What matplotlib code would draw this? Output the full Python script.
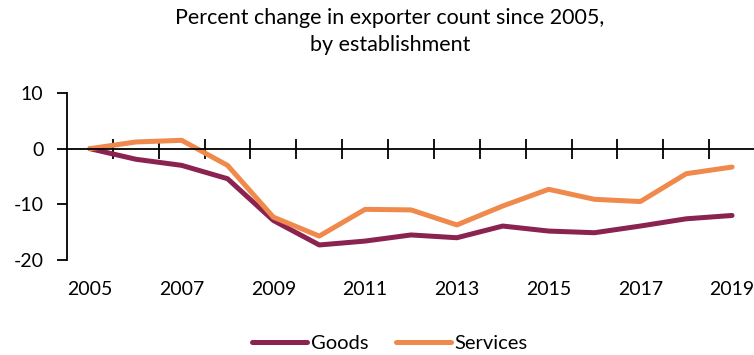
import matplotlib
matplotlib.use('Agg')
import matplotlib.pyplot as plt
import numpy as np

plt.rcParams['font.family'] = ['Lato', 'DejaVu Sans']
plt.rcParams['axes.unicode_minus'] = False

# Percent change in exporter count since 2005
years = list(range(2005, 2020))
goods = [0, -1.9, -3.0, -5.4, -12.9, -17.3, -16.6, -15.5, -16.0, -13.9,
         -14.8, -15.1, -13.9, -12.6, -12.0]
services = [0, 1.2, 1.5, -3.0, -12.3, -15.7, -10.9, -11.0, -13.7, -10.3,
            -7.3, -9.1, -9.5, -4.5, -3.3]
label_years = [2005, 2007, 2009, 2011, 2013, 2015, 2017, 2019]
y_ticks = [10, 0, -10, -20]

goods_color = '#8B2350'
services_color = '#EF8A4C'

fig = plt.figure(figsize=(7.54, 3.55), dpi=100)
ax = fig.add_axes([67 / 754, 1 - 260 / 355, 688 / 754, 167 / 355])

ax.plot(years, goods, color=goods_color, lw=3.6, solid_capstyle='round',
        solid_joinstyle='round', label='Goods')
ax.plot(years, services, color=services_color, lw=3.6, solid_capstyle='round',
        solid_joinstyle='round', label='Services')

ax.set_xlim(years[0] - 0.5, years[-1] + 0.5)
ax.set_ylim(-20, 10)

# category axis crossing at zero, ticks between categories
for s in ['top', 'right']:
    ax.spines[s].set_visible(False)
ax.spines['bottom'].set_position(('data', 0))
ax.spines['bottom'].set_linewidth(1.3)
ax.spines['left'].set_linewidth(1.3)
ax.set_xticks([y + 0.5 for y in years[:-1]])
ax.set_xticklabels([])
ax.tick_params(axis='x', direction='inout', length=14, width=1.3)

ax.set_yticks(y_ticks)
ax.set_yticklabels([str(v) for v in y_ticks])
ax.tick_params(axis='y', direction='out', length=7, width=1.3,
               labelsize=14, pad=10)

# year labels sit below the plot area
sec = ax.secondary_xaxis('bottom')
sec.spines['bottom'].set_visible(False)
sec.set_xticks(label_years)
sec.set_xticklabels([str(y) for y in label_years])
sec.tick_params(length=0, labelsize=14, pad=15)

fig.text(390 / 754, 1 - 18 / 355, 'Percent change in exporter count since 2005,',
         ha='center', va='center', fontsize=15.5)
fig.text(390 / 754, 1 - 45 / 355, 'by establishment',
         ha='center', va='center', fontsize=15.5)

fig.legend(loc='center', bbox_to_anchor=(390 / 754, 1 - 343 / 355), ncol=2,
           frameon=False, fontsize=14.5, handlelength=2.7, handletextpad=0.2,
           columnspacing=1.4)

fig.savefig('out.png', dpi=100)
